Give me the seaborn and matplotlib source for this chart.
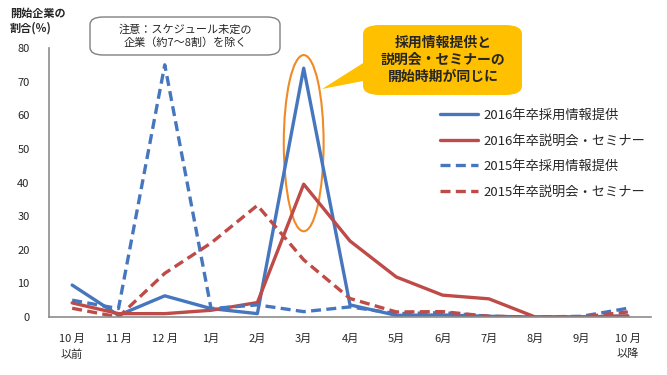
import matplotlib
matplotlib.use("Agg")
import matplotlib.pyplot as plt
from matplotlib.patches import FancyBboxPatch, Ellipse, Polygon
import seaborn as sns
import pandas as pd

months = ["10 月\n以前", "11 月", "12 月", "1月", "2月", "3月", "4月",
          "5月", "6月", "7月", "8月", "9月", "10 月\n以降"]
series_names = ["2016年卒採用情報提供", "2016年卒説明会・セミナー",
                "2015年卒採用情報提供", "2015年卒説明会・セミナー"]
info_2016 = [9.5, 0.5, 6.3, 2.5, 1.0, 74.0, 3.6, 0.5, 0.6, 0.2, 0.0, 0.0, 0.3]
seminar_2016 = [4.2, 1.0, 1.0, 2.0, 4.3, 39.5, 22.6, 11.9, 6.5, 5.4, 0.0, 0.0, 0.3]
info_2015 = [5.0, 2.5, 75.0, 2.5, 3.6, 1.6, 3.0, 1.0, 1.3, 0.2, 0.0, 0.2, 2.6]
seminar_2015 = [2.6, 0.0, 13.0, 22.0, 33.2, 17.0, 5.5, 1.5, 1.6, 0.2, 0.0, 0.0, 1.5]

W, H = 667, 375

rows = []
for name, vals in zip(series_names, [info_2016, seminar_2016, info_2015, seminar_2015]):
    for i, v in enumerate(vals):
        rows.append({"pos": i, "series": name, "value": v})
df = pd.DataFrame(rows)

sns.set_style("white")
plt.rcParams['font.family'] = ['Noto Sans CJK JP', 'DejaVu Sans']

blue = "#4677BE"
red = "#BE4B48"
gray = "#8C8C8C"

fig = plt.figure(figsize=(W / 100, H / 100), dpi=100)
ax = fig.add_axes([49 / W, 1 - 317 / H, (651 - 49) / W, (317 - 48) / H])

sns.lineplot(data=df, x="pos", y="value", hue="series", style="series",
             hue_order=series_names, style_order=series_names,
             palette=[blue, red, blue, red],
             dashes=[(None, None), (None, None), (3, 1.6), (3, 1.6)],
             linewidth=2.4, ax=ax)

ax.set_xlim(-0.5, len(months) - 0.5)
ax.set_ylim(0, 80)
ax.set_yticks(range(0, 81, 10))
ax.set_xticks(range(len(months)))
ax.set_xticklabels(months, fontsize=8, linespacing=1.6, va="top")
ax.set_xticks([i - 0.5 for i in range(len(months) + 1)], minor=True)
ax.tick_params(axis="x", which="major", length=0, pad=12)
ax.tick_params(axis="x", which="minor", length=4, color=gray, width=1, direction="out")
ax.tick_params(axis="y", length=4, color=gray, width=1, direction="out", labelsize=8, pad=10)
ax.set_xlabel("")
ax.set_ylabel("")
for s in ["top", "right"]:
    ax.spines[s].set_visible(False)
for s in ["left", "bottom"]:
    ax.spines[s].set_color(gray)
    ax.spines[s].set_linewidth(1.2)

handles, labels = ax.get_legend_handles_labels()
ax.legend(handles, labels, loc="upper left", bbox_to_anchor=(428 / W, 1 - 97 / H),
          bbox_transform=fig.transFigure, frameon=False, fontsize=9.5,
          handlelength=2.9, labelspacing=0.95, handletextpad=0.4)

# orange ellipse around March
ax.add_patch(Ellipse((5, 51.7), 0.86, 52.4, fill=False, edgecolor="#F08A24", linewidth=1.5))

# y axis title
fig.text(10 / W, 1 - 21 / H, "開始企業の\n割合(％)", fontsize=8, fontweight="bold",
         ha="left", va="center", linespacing=1.2)

# note box
fig.add_artist(FancyBboxPatch((90 / W, 1 - 55 / H), (280 - 90) / W, (55 - 17) / H,
                              boxstyle="round,pad=0,rounding_size=0.02",
                              transform=fig.transFigure, facecolor="white",
                              edgecolor="#808080", linewidth=1))
fig.text(185 / W, 1 - 36 / H, "注意：スケジュール未定の\n企業（約7～8割）を除く", fontsize=8,
         ha="center", va="center", linespacing=1.3)

# callout
yellow = "#FFC000"
fig.add_artist(Polygon([(322 / W, 1 - 89 / H), (368 / W, 1 - 60 / H), (368 / W, 1 - 80 / H)],
                       closed=True, transform=fig.transFigure, facecolor=yellow, edgecolor="none"))
fig.add_artist(FancyBboxPatch((363 / W, 1 - 95 / H), (522 - 363) / W, (95 - 25) / H,
                              boxstyle="round,pad=0,rounding_size=0.025",
                              transform=fig.transFigure, facecolor=yellow, edgecolor="none"))
fig.text(443 / W, 1 - 60 / H, "採用情報提供と\n説明会・セミナーの\n開始時期が同じに", fontsize=10,
         fontweight="bold", ha="center", va="center", linespacing=1.25)

fig.savefig("out.png", dpi=100)
